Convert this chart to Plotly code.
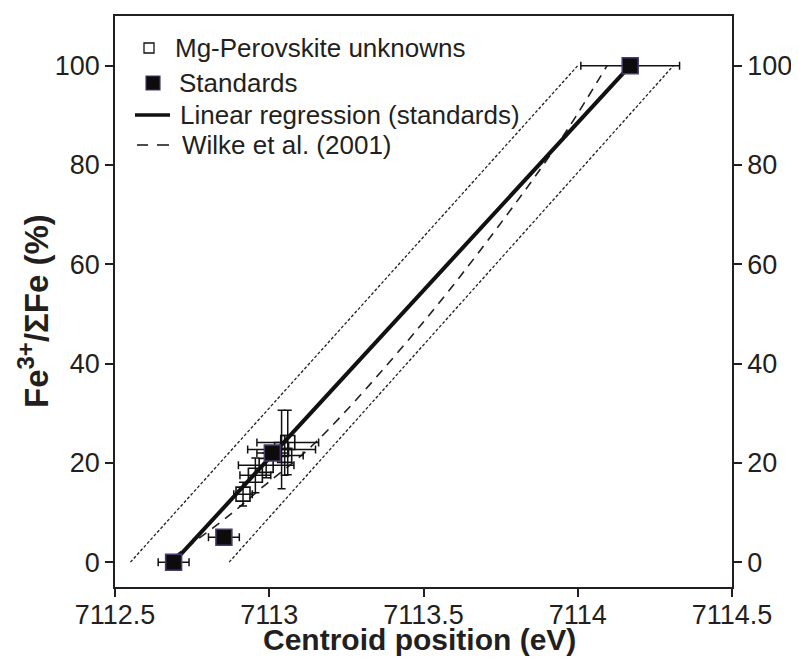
import plotly.graph_objects as go

# Mg-perovskite unknowns (centroid eV, Fe3+/sumFe %)
unk_x = [7112.915, 7112.955, 7112.99, 7113.04, 7113.05, 7113.06]
unk_y = [13.7, 17.5, 19.5, 22.7, 21.5, 24.1]
unk_xerr = [0.03, 0.05, 0.09, 0.11, 0.06, 0.10]
unk_yerr = [2.4, 3.5, 2.5, 7.9, 4.0, 6.5]

# standards
std_x = [7112.69, 7112.853, 7113.01, 7114.17]
std_y = [0, 5, 22, 100]
std_xerr = [0.05, 0.05, 0.05, 0.16]

# regression through the standards
reg_x = [7112.69, 7114.17]
reg_y = [0, 100]

# Wilke et al. (2001) calibration curve
wilke_x = [7112.69, 7112.733, 7112.882, 7112.97, 7113.148, 7113.495, 7113.795, 7113.965, 7114.095]
wilke_y = [1, 3, 10, 14.7, 24, 48, 72, 87, 100]

# dotted envelope lines
env_lo_x = [7112.55, 7114.0]
env_hi_x = [7112.87, 7114.31]
env_y = [0, 100]

legend_names = ["Mg-Perovskite unknowns", "Standards",
                "Linear regression (standards)", "Wilke et al. (2001)"]

fnt = "Arial, Liberation Sans, sans-serif"
ink = "#231f20"

# the page body has an 8px margin, so the figure is 8px smaller on each axis
W, H = 791, 652
L, R, T, B = 107, 67, 8, 73
pw, ph = W - L - R, H - T - B


def px(x):  # page pixel -> paper x
    return (x - 8 - L) / pw


def py(y):  # page pixel -> paper y
    return (H - B - (y - 8)) / ph


fig = go.Figure()
fig.add_trace(go.Scatter(x=env_lo_x, y=env_y, mode="lines", showlegend=False,
                         line=dict(color=ink, width=1.3, dash="3px,2px")))
fig.add_trace(go.Scatter(x=env_hi_x, y=env_y, mode="lines", showlegend=False,
                         line=dict(color=ink, width=1.3, dash="3px,2px")))
fig.add_trace(go.Scatter(x=wilke_x, y=wilke_y, mode="lines", showlegend=False,
                         line=dict(color=ink, width=1.6, dash="9px,7px", shape="spline")))
fig.add_trace(go.Scatter(x=reg_x, y=reg_y, mode="lines", showlegend=False,
                         line=dict(color="#111", width=4)))
fig.add_trace(go.Scatter(x=unk_x, y=unk_y, mode="markers", showlegend=False,
                         marker=dict(symbol="square-open", size=14, color="#111", line=dict(width=1.6)),
                         error_x=dict(type="data", array=unk_xerr, color="#111", thickness=1.5, width=4),
                         error_y=dict(type="data", array=unk_yerr, color="#111", thickness=1.5, width=4)))
fig.add_trace(go.Scatter(x=std_x, y=std_y, mode="markers", showlegend=False,
                         marker=dict(symbol="square", size=16, color="#0c0c0c",
                                     line=dict(color="#4b3a6e", width=1.5)),
                         error_x=dict(type="data", array=std_xerr, color="#111", thickness=1.5, width=4)))
# invisible trace so the right-hand axis is drawn
fig.add_trace(go.Scatter(x=[7113.5], y=[50], yaxis="y2", mode="markers", showlegend=False,
                         marker=dict(opacity=0), hoverinfo="skip"))

# hand-made legend (entries sit closer together than plotly's own legend)
leg_y = [48, 83, 115, 145]
leg_tx = [173, 177, 178, 180]
shapes = [
    dict(type="rect", xref="paper", yref="paper", xsizemode="pixel", ysizemode="pixel",
         xanchor=px(149), yanchor=py(leg_y[0]), x0=-5, x1=5, y0=-5, y1=5,
         line=dict(color="#111", width=1.3), fillcolor="white"),
    dict(type="rect", xref="paper", yref="paper", xsizemode="pixel", ysizemode="pixel",
         xanchor=px(153), yanchor=py(leg_y[1]), x0=-7, x1=7, y0=-7, y1=7,
         line=dict(color="#4b3a6e", width=1.2), fillcolor="#0c0c0c"),
    dict(type="line", xref="paper", yref="paper", x0=px(135), x1=px(170),
         y0=py(leg_y[2]), y1=py(leg_y[2]), line=dict(color="#111", width=3.5)),
    dict(type="line", xref="paper", yref="paper", x0=px(137), x1=px(148),
         y0=py(leg_y[3]), y1=py(leg_y[3]), line=dict(color=ink, width=1.6)),
    dict(type="line", xref="paper", yref="paper", x0=px(157), x1=px(169),
         y0=py(leg_y[3]), y1=py(leg_y[3]), line=dict(color=ink, width=1.6)),
]
annotations = [
    dict(text=name, x=px(tx), y=py(ty), xref="paper", yref="paper", xanchor="left",
         yanchor="middle", showarrow=False, font=dict(family=fnt, size=26, color=ink))
    for name, tx, ty in zip(legend_names, leg_tx, leg_y)
]
annotations += [
    dict(text="<b>Centroid position (eV)</b>", x=px(419), y=py(640), xref="paper", yref="paper",
         xanchor="center", yanchor="middle", showarrow=False, font=dict(family=fnt, size=30, color=ink)),
    dict(text="<b>Fe<sup><span style='font-size:24px'>3+</span></sup>/ΣFe (%)</b>", x=px(33), y=py(311),
         xref="paper", yref="paper", xanchor="center", yanchor="middle", textangle=-90,
         showarrow=False, font=dict(family=fnt, size=33, color=ink)),
]

axis_common = dict(showline=True, linecolor=ink, linewidth=1.5, ticks="outside", ticklen=8,
                   tickwidth=1.5, tickcolor=ink, showgrid=False, zeroline=False, automargin=False,
                   tickfont=dict(family=fnt, size=27, color=ink))

fig.update_layout(
    width=W, height=H,
    margin=dict(l=L, r=R, t=T, b=B),
    paper_bgcolor="white", plot_bgcolor="white",
    font=dict(family=fnt, color=ink),
    xaxis=dict(range=[7112.5, 7114.5], tickvals=[7112.5, 7113, 7113.5, 7114, 7114.5],
               ticktext=["7112.5", "7113", "7113.5", "7114", "7114.5"], mirror=True,
               ticklabelstandoff=-5, **axis_common),
    yaxis=dict(range=[-5, 110], tickvals=[0, 20, 40, 60, 80, 100], **axis_common),
    yaxis2=dict(range=[-5, 110], tickvals=[0, 20, 40, 60, 80, 100], overlaying="y", side="right",
                matches="y", **axis_common),
    shapes=shapes,
    annotations=annotations,
    showlegend=False,
)

fig.write_html("out.html")
